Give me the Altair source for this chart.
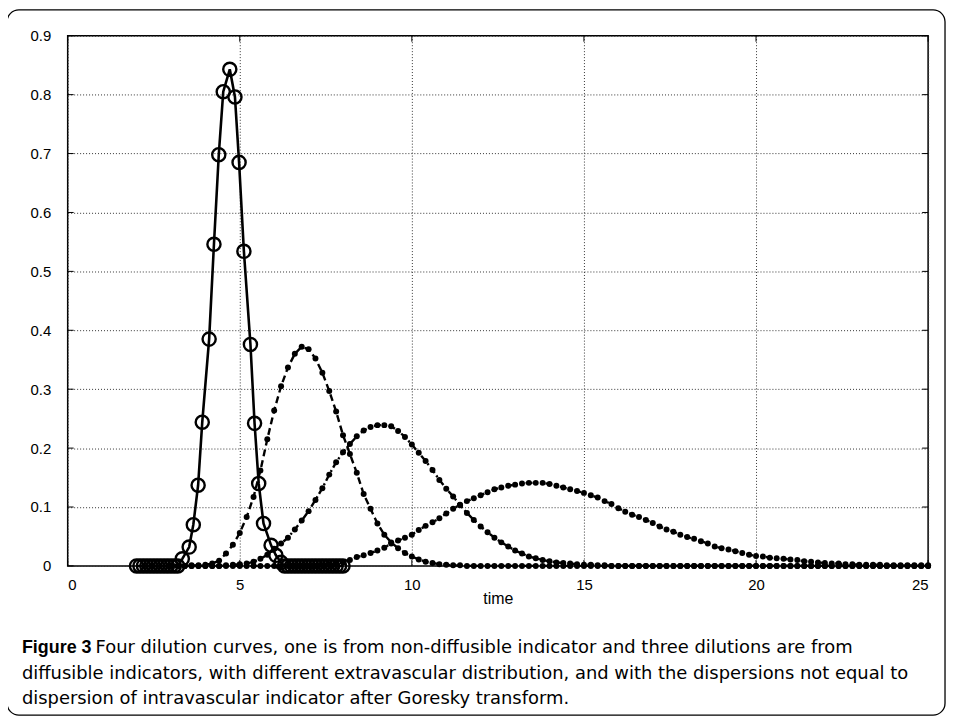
import altair as alt
import pandas as pd

# ---------------- data ----------------
# Non-diffusible (intravascular) indicator: solid line with open circles
circ_x = [2.0, 2.1, 2.2, 2.3, 2.4, 2.5, 2.6, 2.7, 2.8, 2.9, 3.0, 3.1, 3.2,
          3.33, 3.53, 3.65, 3.79, 3.91, 4.11, 4.25, 4.39, 4.52, 4.71, 4.86,
          4.98, 5.12, 5.31, 5.43, 5.55, 5.69, 5.91, 6.05, 6.2,
          6.3, 6.4, 6.5, 6.6, 6.7, 6.8, 6.9, 7.0, 7.1, 7.2, 7.3, 7.4, 7.5,
          7.6, 7.7, 7.8, 7.9, 8.0]
circ_y = [0, 0, 0, 0, 0, 0, 0, 0, 0, 0, 0, 0, 0,
          0.012, 0.032, 0.070, 0.137, 0.244, 0.385, 0.546, 0.698, 0.805, 0.843, 0.796,
          0.685, 0.534, 0.376, 0.242, 0.140, 0.072, 0.035, 0.018, 0.006,
          0, 0, 0, 0, 0, 0, 0, 0, 0, 0, 0, 0, 0,
          0, 0, 0, 0, 0]

# Diffusible indicators, sampled every 0.2 time units from 3.0 to 25.0
grid_start = 3.0
grid_step = 0.2

dash_y = [  # dashed curve, peak near 6.8
    0, 0, 0, 0.001, 0.001, 0.002, 0.004, 0.009, 0.021, 0.036,          # 3.0 - 4.8
    0.056, 0.083, 0.117, 0.162, 0.215, 0.264, 0.305, 0.337, 0.360, 0.372,  # 5.0 - 6.8
    0.368, 0.352, 0.328, 0.297, 0.262, 0.222, 0.190, 0.158, 0.122, 0.097,  # 7.0 - 8.8
    0.072, 0.053, 0.040, 0.030, 0.022, 0.016, 0.011, 0.007, 0.005, 0.003,  # 9.0 - 10.8
    0.002, 0.001, 0.001, 0, 0, 0, 0, 0, 0, 0,                          # 11.0 - 12.8
    0, 0, 0, 0, 0, 0, 0, 0, 0, 0,                                      # 13.0 - 14.8
    0, 0, 0, 0, 0, 0, 0, 0, 0, 0,                                      # 15.0 - 16.8
    0, 0, 0, 0, 0, 0, 0, 0, 0, 0,                                      # 17.0 - 18.8
    0, 0, 0, 0, 0, 0, 0, 0, 0, 0,                                      # 19.0 - 20.8
    0, 0, 0, 0, 0, 0, 0, 0, 0, 0,                                      # 21.0 - 22.8
    0, 0, 0, 0, 0, 0, 0, 0, 0, 0,                                      # 23.0 - 24.8
    0,                                                                 # 25.0
]

dashdot_y = [  # dash-dot curve, peak near 9.1
    0, 0, 0, 0, 0, 0, 0, 0, 0.001, 0.002,                              # 3.0 - 4.8
    0.003, 0.004, 0.007, 0.012, 0.019, 0.029, 0.038, 0.048, 0.062, 0.077,  # 5.0 - 6.8
    0.093, 0.112, 0.132, 0.155, 0.176, 0.193, 0.207, 0.220, 0.230, 0.236,  # 7.0 - 8.8
    0.239, 0.239, 0.237, 0.229, 0.219, 0.206, 0.192, 0.178, 0.163, 0.146,  # 9.0 - 10.8
    0.131, 0.118, 0.103, 0.090, 0.078, 0.067, 0.057, 0.048, 0.040, 0.033,  # 11.0 - 12.8
    0.026, 0.021, 0.016, 0.013, 0.010, 0.008, 0.006, 0.005, 0.004, 0.003,  # 13.0 - 14.8
    0.002, 0.002, 0.001, 0.001, 0, 0, 0, 0, 0, 0,                      # 15.0 - 16.8
    0, 0, 0, 0, 0, 0, 0, 0, 0, 0,                                      # 17.0 - 18.8
    0, 0, 0, 0, 0, 0, 0, 0, 0, 0,                                      # 19.0 - 20.8
    0, 0, 0, 0, 0, 0, 0, 0, 0, 0,                                      # 21.0 - 22.8
    0, 0, 0, 0, 0, 0, 0, 0, 0, 0,                                      # 23.0 - 24.8
    0,                                                                 # 25.0
]

dot_y = [  # dotted curve, peak near 13.6
    0, 0, 0, 0, 0, 0, 0, 0, 0, 0,                                      # 3.0 - 4.8
    0, 0, 0, 0, 0, 0, 0, 0, 0, 0,                                      # 5.0 - 6.8
    0, 0, 0.001, 0.002, 0.004, 0.006, 0.010, 0.015, 0.018, 0.022,      # 7.0 - 8.8
    0.026, 0.031, 0.038, 0.043, 0.048, 0.053, 0.061, 0.068, 0.074, 0.081,  # 9.0 - 10.8
    0.089, 0.097, 0.104, 0.110, 0.115, 0.120, 0.125, 0.130, 0.133, 0.136,  # 11.0 - 12.8
    0.138, 0.140, 0.141, 0.141, 0.141, 0.139, 0.136, 0.133, 0.130, 0.127,  # 13.0 - 14.8
    0.124, 0.120, 0.116, 0.110, 0.105, 0.098, 0.092, 0.087, 0.083, 0.078,  # 15.0 - 16.8
    0.073, 0.067, 0.062, 0.058, 0.053, 0.049, 0.046, 0.042, 0.038, 0.033,  # 17.0 - 18.8
    0.030, 0.028, 0.025, 0.022, 0.019, 0.017, 0.016, 0.014, 0.013, 0.012,  # 19.0 - 20.8
    0.011, 0.010, 0.008, 0.007, 0.006, 0.005, 0.004, 0.004, 0.003, 0.003,  # 21.0 - 22.8
    0.002, 0.002, 0.002, 0.002, 0.001, 0.001, 0.001, 0.001, 0.001, 0.001,  # 23.0 - 24.8
    0.001,                                                             # 25.0
]

x_ticks = [0, 5, 10, 15, 20, 25]
y_ticks = [0, 0.1, 0.2, 0.3, 0.4, 0.5, 0.6, 0.7, 0.8, 0.9]

caption_bold = "Figure 3"
caption_lines = [
    "Four dilution curves, one is from non-diffusible indicator and three dilutions are from",
    "diffusible indicators, with different extravascular distribution, and with the dispersions not equal to",
    "dispersion of intravascular indicator after Goresky transform.",
]
x_title = "time"

# ---------------- tables ----------------
grid_x = [round(grid_start + grid_step * i, 1) for i in range(len(dash_y))]
df_circ = pd.DataFrame({"t": circ_x, "c": circ_y})
df_dash = pd.DataFrame({"t": grid_x, "c": dash_y})
df_dashdot = pd.DataFrame({"t": grid_x, "c": dashdot_y})
df_dot = pd.DataFrame({"t": grid_x, "c": dot_y})
df_xt = pd.DataFrame({"t": x_ticks})
df_yt = pd.DataFrame({"c": y_ticks})
df_one = pd.DataFrame({"k": [0]})

W, H = 865, 533
xs = alt.Scale(domain=[0, 25], nice=False, zero=False)
ys = alt.Scale(domain=[0, 0.9], nice=False)

axis_style = dict(
    labelFont="Liberation Sans", labelFontSize=15, labelColor="black",
    titleFont="Liberation Sans", titleFontSize=16, titleFontWeight="normal", titleColor="black",
    ticks=False, domain=False,
    grid=True, gridDash=[1, 2], gridColor="#333", gridWidth=1, gridOpacity=1,
)

X = alt.X("t:Q", scale=xs, title=x_title,
          axis=alt.Axis(values=x_ticks, labelPadding=12, titlePadding=-2, **axis_style))
Y = alt.Y("c:Q", scale=ys, title=None,
          axis=alt.Axis(values=y_ticks, labelPadding=17,
                        labelExpr="datum.value == 0 ? '0' : format(datum.value, '.1f')",
                        **axis_style))


def dotted_curve(df, dash):
    line = alt.Chart(df).mark_line(color="black", strokeWidth=2.4, strokeDash=dash).encode(x=X, y=Y)
    pts = alt.Chart(df).mark_circle(color="black", size=36, opacity=1).encode(x=X, y=Y)
    return line + pts


curve_dash = dotted_curve(df_dash, [7, 4])
curve_dashdot = dotted_curve(df_dashdot, [7, 3, 2, 3])
curve_dot = dotted_curve(df_dot, [2, 3])

circ_line = alt.Chart(df_circ).mark_line(color="black", strokeWidth=2.6).encode(x=X, y=Y)
circ_pts = alt.Chart(df_circ).mark_point(shape="circle", filled=False, color="black",
                                         size=175, strokeWidth=2.4, opacity=1).encode(x=X, y=Y)

# inward tick marks on all four sides
tick_len = 6
xt_bottom = alt.Chart(df_xt).mark_rule(color="black", strokeWidth=1).encode(
    x=X, y=alt.value(H), y2=alt.value(H - tick_len))
xt_top = alt.Chart(df_xt).mark_rule(color="black", strokeWidth=1).encode(
    x=X, y=alt.value(0), y2=alt.value(tick_len))
yt_left = alt.Chart(df_yt).mark_rule(color="black", strokeWidth=1).encode(
    y=Y, x=alt.value(0), x2=alt.value(tick_len))
yt_right = alt.Chart(df_yt).mark_rule(color="black", strokeWidth=1).encode(
    y=Y, x=alt.value(W - tick_len), x2=alt.value(W))

# outer rounded frame around figure and caption
frame = alt.Chart(df_one).mark_rect(filled=False, stroke="black", strokeWidth=1.3,
                                    cornerRadius=12).encode(
    x=alt.value(-61), x2=alt.value(882), y=alt.value(-26), y2=alt.value(H + 150))

cap_font = "DejaVu Sans"
cap_size = 18
cap_bold = alt.Chart(df_one).mark_text(text=caption_bold, font="Liberation Sans", fontSize=18,
                                       fontWeight="bold", align="left", baseline="alphabetic",
                                       color="black").encode(x=alt.value(-46), y=alt.value(H + 88))
cap_l1 = alt.Chart(df_one).mark_text(text=caption_lines[0], font=cap_font, fontSize=cap_size,
                                     align="left", baseline="alphabetic", color="black").encode(
    x=alt.value(28), y=alt.value(H + 88))
cap_l2 = alt.Chart(df_one).mark_text(text=caption_lines[1], font=cap_font, fontSize=cap_size,
                                     align="left", baseline="alphabetic", color="black").encode(
    x=alt.value(-46), y=alt.value(H + 113.5))
cap_l3 = alt.Chart(df_one).mark_text(text=caption_lines[2], font=cap_font, fontSize=cap_size,
                                     align="left", baseline="alphabetic", color="black").encode(
    x=alt.value(-46), y=alt.value(H + 139))

chart = alt.layer(
    curve_dot, curve_dashdot, curve_dash, circ_line, circ_pts,
    xt_bottom, xt_top, yt_left, yt_right,
    frame, cap_bold, cap_l1, cap_l2, cap_l3,
).properties(
    width=W, height=H,
    background="white",
    autosize=alt.AutoSizeParams(type="none"),
    padding={"left": 60, "top": 26, "right": 20, "bottom": 152},
).configure_view(
    stroke="black", strokeWidth=1.5
).configure_axis(**axis_style)

chart.save("out.html", embed_options={"renderer": "svg", "actions": False})
